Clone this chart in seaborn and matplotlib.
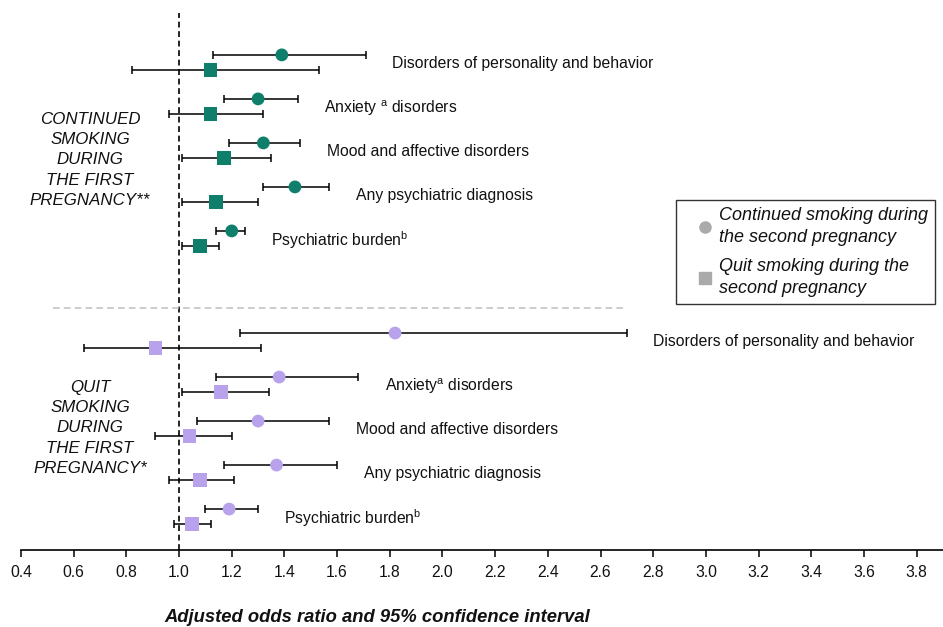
import numpy as np
import pandas as pd
import matplotlib
matplotlib.use("Agg")
import matplotlib.pyplot as plt
from matplotlib.lines import Line2D
import seaborn as sns

# Outcomes (top to bottom within each block)
categories = [
    "Disorders of personality and behavior",
    "Anxiety $^{\\mathrm{a}}$ disorders",
    "Mood and affective disorders",
    "Any psychiatric diagnosis",
    "Psychiatric burden$^{\\mathrm{b}}$",
]
categories_quit_first = [
    "Disorders of personality and behavior",
    "Anxiety$^{\\mathrm{a}}$ disorders",
    "Mood and affective disorders",
    "Any psychiatric diagnosis",
    "Psychiatric burden$^{\\mathrm{b}}$",
]

# Continued smoking during the first pregnancy
cf_cont_or = [1.39, 1.30, 1.32, 1.44, 1.20]
cf_cont_lo = [1.13, 1.17, 1.19, 1.32, 1.14]
cf_cont_hi = [1.71, 1.45, 1.46, 1.57, 1.25]
cf_quit_or = [1.12, 1.12, 1.17, 1.14, 1.08]
cf_quit_lo = [0.82, 0.96, 1.01, 1.01, 1.01]
cf_quit_hi = [1.53, 1.32, 1.35, 1.30, 1.15]

# Quit smoking during the first pregnancy
qf_cont_or = [1.82, 1.38, 1.30, 1.37, 1.19]
qf_cont_lo = [1.23, 1.14, 1.07, 1.17, 1.10]
qf_cont_hi = [2.70, 1.68, 1.57, 1.60, 1.30]
qf_quit_or = [0.91, 1.16, 1.04, 1.08, 1.05]
qf_quit_lo = [0.64, 1.01, 0.91, 0.96, 0.98]
qf_quit_hi = [1.31, 1.34, 1.20, 1.21, 1.12]

x_ticks = [0.4, 0.6, 0.8, 1.0, 1.2, 1.4, 1.6, 1.8, 2.0, 2.2, 2.4, 2.6, 2.8,
           3.0, 3.2, 3.4, 3.6, 3.8]

TEAL = "#0f7f6c"
LAVENDER = "#b9a2ec"

sns.set_theme(style="white")
plt.rcParams["font.family"] = ["Liberation Sans", "DejaVu Sans"]
plt.rcParams["mathtext.fontset"] = "custom"
plt.rcParams["mathtext.rm"] = "Liberation Sans"
plt.rcParams["mathtext.it"] = "Liberation Sans:italic"

# Vertical layout of the two blocks
block_start = {"continued": 0.0, "quit": 6.32}
pair_offset = 0.34

rows = []
blocks = [
    ("continued", categories, cf_cont_or, cf_cont_lo, cf_cont_hi,
     cf_quit_or, cf_quit_lo, cf_quit_hi),
    ("quit", categories_quit_first, qf_cont_or, qf_cont_lo, qf_cont_hi,
     qf_quit_or, qf_quit_lo, qf_quit_hi),
]
for name, cats, c_or, c_lo, c_hi, q_or, q_lo, q_hi in blocks:
    for k, cat in enumerate(cats):
        y0 = block_start[name] + k
        rows.append(dict(block=name, outcome=cat, second="cont",
                         OR=c_or[k], lo=c_lo[k], hi=c_hi[k], y=y0))
        rows.append(dict(block=name, outcome=cat, second="quit",
                         OR=q_or[k], lo=q_lo[k], hi=q_hi[k], y=y0 + pair_offset))
df = pd.DataFrame(rows)

fig = plt.figure(figsize=(9.43, 6.27), dpi=100)
ax = fig.add_axes([21 / 943, 1 - 550 / 627, 1 - 21 / 943, 540 / 627])

# Confidence intervals
ax.errorbar(df["OR"], df["y"],
            xerr=[df["OR"] - df["lo"], df["hi"] - df["OR"]],
            fmt="none", ecolor="black", elinewidth=1.1, capsize=3.2,
            capthick=1.1, zorder=2)

# Point estimates
sns.scatterplot(data=df, x="OR", y="y", hue="block", style="second",
                palette={"continued": TEAL, "quit": LAVENDER},
                markers={"cont": "o", "quit": "s"},
                size="second", sizes={"cont": 85, "quit": 95},
                linewidth=0, legend=False, zorder=3, ax=ax)

# Outcome labels to the right of each pair
for (name, cat), g in df.groupby(["block", "outcome"], sort=False):
    ax.annotate(cat, xy=(g["hi"].max(), g["y"].mean()),
                xytext=(19, -1), textcoords="offset points",
                ha="left", va="center", fontsize=11.3, color="#111111")

# Reference line at OR = 1 and block separator
ax.axvline(1.0, ymin=0, ymax=0.994, color="black", lw=1.2,
           ls=(0, (3.5, 2.2)), zorder=1)
ax.plot([0.52, 2.70], [5.75, 5.75], color="#c4c4c4", lw=1.2,
        ls=(0, (4, 2.5)), zorder=1)

ax.set_xlim(0.4, 3.9)
ax.set_ylim(11.25, -1.02)
ax.set_xticks(x_ticks)
ax.set_xticklabels([f"{t:.1f}" for t in x_ticks], fontsize=11.3, color="#111111")
ax.set_yticks([])
ax.set_xlabel("")
ax.set_ylabel("")
for side in ["top", "right", "left"]:
    ax.spines[side].set_visible(False)
ax.spines["bottom"].set_color("black")
ax.spines["bottom"].set_linewidth(1.2)
ax.tick_params(axis="x", direction="out", length=5, width=1.1,
               color="black", pad=6, bottom=True)

# Block titles
fig.text(90 / 943, 1 - 160 / 627,
         "CONTINUED\nSMOKING\nDURING\nTHE FIRST\nPREGNANCY**",
         ha="center", va="center", fontsize=12.2, style="italic",
         linespacing=1.45, color="#111111")
fig.text(90 / 943, 1 - 428 / 627,
         "QUIT\nSMOKING\nDURING\nTHE FIRST\nPREGNANCY*",
         ha="center", va="center", fontsize=12.2, style="italic",
         linespacing=1.45, color="#111111")

fig.text(377 / 943, 1 - 617 / 627,
         "Adjusted odds ratio and 95% confidence interval",
         ha="center", va="center", fontsize=13.2, fontweight="bold",
         style="italic", color="#111111")

# Legend
handles = [
    Line2D([], [], marker="o", ls="none", color="#aaaaaa", markersize=8),
    Line2D([], [], marker="s", ls="none", color="#aaaaaa", markersize=8),
]
leg = fig.legend(handles,
                 ["Continued smoking during\nthe second pregnancy",
                  "Quit smoking during the\nsecond pregnancy"],
                 loc="upper left", bbox_to_anchor=(676 / 943, 1 - 200 / 627),
                 frameon=True, fancybox=False, framealpha=1,
                 edgecolor="#333333", fontsize=13, handlelength=2.45,
                 handletextpad=-0.45, borderpad=0.38, labelspacing=0.65,
                 borderaxespad=0)
for t in leg.get_texts():
    t.set_fontstyle("italic")
    t.set_color("#111111")
    t.set_linespacing(1.4)
leg.get_frame().set_linewidth(1.0)

fig.savefig("out.png", dpi=100)
